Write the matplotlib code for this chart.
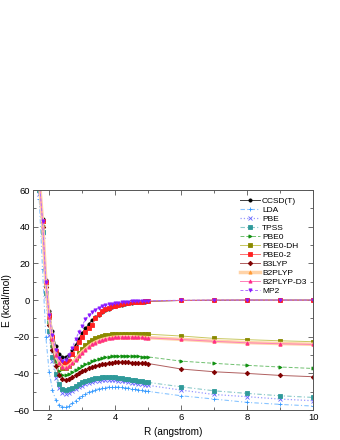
import matplotlib.pyplot as plt
from matplotlib.ticker import MultipleLocator

plt.rcParams['font.family'] = ['Liberation Sans', 'DejaVu Sans']

# bond distances (angstrom): dense scan 1.7-5.0, then sparse points
R = [1.7, 1.8, 1.9, 2.0, 2.1, 2.2, 2.3, 2.4, 2.5, 2.6, 2.7, 2.8, 2.9, 3.0,
     3.1, 3.2, 3.3, 3.4, 3.5, 3.6, 3.7, 3.8, 3.9, 4.0, 4.1, 4.2, 4.3, 4.4,
     4.5, 4.6, 4.7, 4.8, 4.9, 5.0, 6, 7, 8, 9, 10]

ccsdt = [68, 44, 11, -6, -17, -25, -29.5, -31, -31, -30, -27.5, -24.5, -21, -18,
         -15.5, -13, -11, -9.3, -7.9, -6.6, -5.6, -4.7, -4.0, -3.4, -2.9, -2.5, -2.1, -1.8,
         -1.5, -1.3, -1.1, -0.9, -0.8, -0.7, -0.2, -0.1, 0, 0, 0]
lda = [55, 17, -20, -39, -49, -54.5, -57.3, -58.4, -58.3, -57.6, -56.3, -54.9, -53.5, -52.3,
       -51.2, -50.3, -49.5, -48.9, -48.4, -48.0, -47.7, -47.5, -47.4, -47.4, -47.5, -47.6, -47.8, -48.0,
       -48.3, -48.6, -48.9, -49.2, -49.5, -49.8, -52.2, -54.0, -55.8, -56.9, -57.8]
pbe = [58, 35, 2, -19, -33, -42.5, -48, -50.5, -51, -50.6, -49.7, -48.6, -47.6, -46.7,
       -45.9, -45.2, -44.6, -44.2, -43.9, -43.7, -43.6, -43.6, -43.7, -43.8, -44.0, -44.2, -44.4, -44.7,
       -45.0, -45.3, -45.6, -45.9, -46.2, -46.5, -49.1, -51.5, -52.7, -54.0, -54.9]
tpss = [60, 37, 4, -17, -31, -40.5, -46, -48.5, -49, -48.6, -47.7, -46.7, -45.7, -44.8,
        -44.1, -43.5, -43.0, -42.6, -42.3, -42.1, -42.0, -42.0, -42.1, -42.2, -42.4, -42.6, -42.8, -43.1,
        -43.4, -43.7, -44.0, -44.3, -44.6, -44.9, -47.3, -49.5, -50.9, -52.2, -53.1]
pbe0 = [64, 41, 8, -12, -25, -33.5, -38.5, -40.7, -41, -40.3, -39.2, -38, -37, -36,
        -35, -34.1, -33.3, -32.6, -32.0, -31.5, -31.1, -30.8, -30.6, -30.4, -30.3, -30.3, -30.3, -30.4,
        -30.5, -30.6, -30.7, -30.8, -30.9, -31.0, -33.3, -34.5, -35.6, -36.5, -37.3]
pbe0_dh = [66, 43, 10, -9, -21.5, -30, -35, -37, -37, -36, -34, -31.5, -29, -26.8,
           -24.7, -23, -21.7, -20.7, -20.0, -19.5, -19.1, -18.9, -18.7, -18.6, -18.5, -18.4, -18.4, -18.4,
           -18.4, -18.4, -18.5, -18.5, -18.6, -18.6, -19.6, -20.9, -21.6, -22.2, -22.7]
pbe0_2 = [67, 43, 10, -8, -20, -28, -32.5, -34.3, -34.5, -33, -29.5, -26, -22.8, -20,
          -17.5, -15.5, -13.5, -10, -7.5, -6.0, -5.0, -4.2, -3.5, -3.0, -2.5, -2.1, -1.8, -1.5,
          -1.3, -1.1, -0.9, -0.8, -0.7, -0.6, -0.2, 0, 0, 0, 0]
b3lyp = [63, 40, 7, -13.5, -27, -36, -41, -43.3, -43.6, -43, -42, -40.9, -39.9, -38.9,
         -38, -37.2, -36.5, -35.9, -35.4, -35.0, -34.6, -34.3, -34.1, -34.0, -33.9, -33.9, -33.9, -34.0,
         -34.1, -34.2, -34.3, -34.4, -34.5, -34.6, -37.6, -39.1, -40.0, -41.1, -41.8]
b2plyp = [66, 43, 10, -9, -21.3, -29.6, -34.2, -36.2, -36.6, -35.8, -34.2, -32.2, -30.2, -28.4,
          -26.8, -25.3, -24.0, -23.0, -22.2, -21.6, -21.1, -20.7, -20.4, -20.2, -20.1, -20.0, -20.0, -20.0,
          -20.0, -20.1, -20.2, -20.3, -20.4, -20.5, -21.4, -22.4, -23.2, -23.7, -24.1]
b2plyp_d3 = [66, 43, 10, -9, -21.5, -30, -34.5, -36.5, -36.8, -36, -34.5, -32.5, -30.5, -28.7,
             -27, -25.5, -24.2, -23.2, -22.4, -21.7, -21.2, -20.8, -20.5, -20.3, -20.2, -20.1, -20.1, -20.1,
             -20.1, -20.2, -20.3, -20.4, -20.5, -20.6, -21.5, -22.5, -23.3, -23.8, -24.2]
mp2 = [66, 43, 10, -8, -19, -27, -31.5, -33, -32.5, -30, -26, -21.5, -17.5, -14,
       -10.5, -8.3, -6.5, -5.2, -4.2, -3.5, -2.9, -2.4, -2.0, -1.7, -1.4, -1.2, -1.0, -0.85,
       -0.7, -0.6, -0.5, -0.45, -0.4, -0.35, -0.1, 0, 0, 0, 0]

methods = ['CCSD(T)', 'LDA', 'PBE', 'TPSS', 'PBE0', 'PBE0-DH', 'PBE0-2',
           'B3LYP', 'B2PLYP', 'B2PLYP-D3', 'MP2']
series = [ccsdt, lda, pbe, tpss, pbe0, pbe0_dh, pbe0_2, b3lyp, b2plyp, b2plyp_d3, mp2]

# (marker colour, line colour, linestyle, marker, linewidth)
styles = [
    ('black', '#404040', '-', 'o', 0.7),
    ('#3399ff', '#88c4ff', (0, (4, 2, 1, 2)), '+', 0.8),
    ('#6666ff', '#9999ff', ':', 'x', 0.9),
    ('#2f9a9a', '#8ccaca', (0, (4, 2, 1, 2)), 's', 0.8),
    ('#109010', '#70c070', (0, (4, 2)), '>', 0.7),
    ('#8a8a00', '#c8c860', '-', 's', 0.7),
    ('#ff2020', '#ff7070', '-', 's', 0.7),
    ('#800000', '#b06060', '-', 'D', 0.7),
    ('#ff9933', '#ffd3a8', '-', '^', 2.5),
    ('#ff2b8a', '#ff80b8', '-', '^', 0.7),
    ('#8a1aff', '#b070ff', (0, (3, 2)), 'v', 0.7),
]

fig = plt.figure(figsize=(3.4, 4.4), dpi=100)
ax = fig.add_axes([0.096, 0.068, 0.825, 0.5])

ms = 2.3
for name, y, (mc, lc, ls, mk, lw) in zip(methods, series, styles):
    ax.plot(R, y, color=lc, linestyle=ls, linewidth=lw)
    ax.plot(R, y, color=mc, linestyle='none', marker=mk, markersize=ms,
            markeredgewidth=0.6)
    # proxy for legend
    ax.plot([], [], color=lc, linestyle=ls, linewidth=lw, marker=mk,
            markersize=ms, markerfacecolor=mc, markeredgecolor=mc,
            markeredgewidth=0.6, label=name)

ax.set_xlim(1.5, 10)
ax.set_ylim(-60, 60)
ax.xaxis.set_major_locator(MultipleLocator(2))
ax.xaxis.set_minor_locator(MultipleLocator(1))
ax.yaxis.set_major_locator(MultipleLocator(20))
ax.yaxis.set_minor_locator(MultipleLocator(10))
ax.tick_params(which='both', direction='in', top=True, right=True,
               labelsize=6.8, width=0.6, color='#555555', pad=2)
ax.tick_params(which='major', length=3.5)
ax.tick_params(which='minor', length=2)
for sp in ax.spines.values():
    sp.set_linewidth(0.7)
    sp.set_color('#555555')

ax.set_xlabel('R (angstrom)', fontsize=7.2, labelpad=4)
ax.set_ylabel('E (kcal/mol)', fontsize=7.2, labelpad=1)

ax.legend(loc='upper right', fontsize=6, frameon=False, handlelength=2.4,
          handletextpad=0.3, labelspacing=0.15, borderaxespad=0.4)

fig.savefig('out.png', dpi=100)
